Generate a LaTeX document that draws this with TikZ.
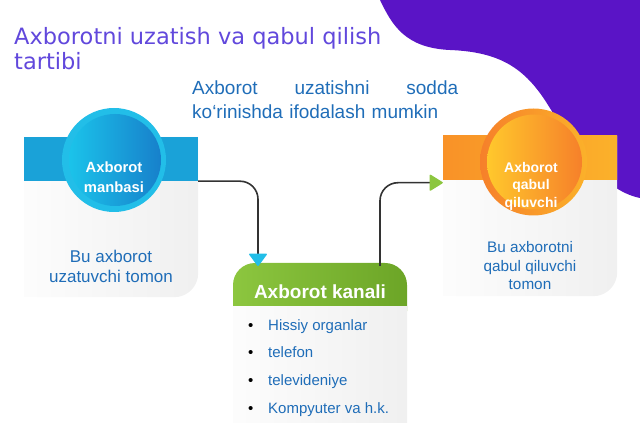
\documentclass[tikz,border=0pt]{standalone}
\usepackage{fontspec}
\setmainfont{Liberation Sans}
\newfontfamily\titlefont{DejaVu Sans}
\usetikzlibrary{arrows.meta,positioning}
\definecolor{purp}{HTML}{5A14C6}
\definecolor{titlec}{HTML}{6148DC}
\definecolor{txtblue}{HTML}{1F6DB8}
\definecolor{cyanband}{HTML}{1AA2D8}
\definecolor{cyanring}{HTML}{22BEE8}
\definecolor{cyanlt}{HTML}{1BC3EA}
\definecolor{cyandk}{HTML}{1780CB}
\definecolor{orband}{HTML}{F8A22C}
\definecolor{orring}{HTML}{FBB12A}
\definecolor{orlt}{HTML}{FFC82C}
\definecolor{ordk}{HTML}{F6802A}
\definecolor{grnlt}{HTML}{8CC63F}
\definecolor{grndk}{HTML}{6CA527}
\definecolor{linec}{HTML}{333333}
\newcommand{\itm}[1]{\makebox[20pt][l]{\color{black}\textbullet}#1}

\begin{document}
\begin{tikzpicture}[x=1pt,y=-1pt,
  card/.style={inner sep=0pt,minimum width=174pt,minimum height=160pt},
  cardfill/.style={left color=gray!2,right color=gray!12},
  band/.style={inner sep=0pt,minimum width=174pt,minimum height=44pt},
  ring/.style={circle,inner sep=0pt},
  ctext/.style={align=center,text=white,font=\bfseries\fontsize{14.8}{20}\selectfont},
  btext/.style={align=center,text=txtblue},
  link/.style={draw=linec,line width=1.6pt,rounded corners=18pt}]
\useasboundingbox (0,0) rectangle (640,443);
% background wave
\fill[purp] (380,0) .. controls (392,25) and (405,48) .. (450,50)
  .. controls (500,52) and (525,68) .. (548,105)
  .. controls (570,140) and (600,190) .. (640,198) -- (640,0) -- cycle;
% titles
\node[anchor=north west,align=left,text=titlec,inner sep=0pt,
  font=\titlefont\fontsize{22.5}{25}\selectfont] (ttl) at (14,27)
  {Axborotni uzatish va qabul qilish\\tartibi};
\node[anchor=north west,align=left,text=txtblue,inner sep=0pt,text width=266pt,
  font=\fontsize{19}{24}\selectfont] (sub) at (192,81)
  {Axborot\hfill uzatishni\hfill sodda\\ko‘rinishda ifodalash mumkin};
% sender card
\node[card] (srccard) at (111,217) {};
\shade[cardfill] (srccard.north west) -- (srccard.north east)
  -- ([yshift=24pt]srccard.south east) arc (0:-90:24pt) -- (srccard.south west) -- cycle;
\node[band,fill=cyanband] (srcband) at (111,159) {};
\node[ring,minimum size=104pt,fill=cyanring] (srcring) at (114,160) {};
\node[ring,minimum size=92pt,left color=cyanlt,right color=cyandk] (srcdisc) at (115,160) {};
\node[ctext] (src) at (114,177) {Axborot\\manbasi};
\node[btext,font=\fontsize{17}{20}\selectfont] (srctxt) at (111,266) {Bu axborot\\uzatuvchi tomon};
% receiver card
\node[card] (dstcard) at (530,216) {};
\shade[cardfill] (dstcard.north west) -- (dstcard.north east)
  -- ([yshift=24pt]dstcard.south east) arc (0:-90:24pt) -- (dstcard.south west) -- cycle;
\node[band,left color=orband!90!red,right color=orring] (dstband) at (530,157.5) {};
\node[ring,minimum size=107pt,left color=ordk,right color=orring] (dstring) at (533.5,162) {};
\node[ring,minimum size=95pt,left color=orlt,right color=ordk] (dstdisc) at (534.5,162) {};
\node[ctext,font=\bfseries\fontsize{14}{17.5}\selectfont] (dst) at (531,186) {Axborot\\qabul\\qiluvchi};
\node[btext,font=\fontsize{15.3}{18.5}\selectfont] (dsttxt) at (530,266) {Bu axborotni\\qabul qiluvchi\\tomon};
% channel
\node[inner sep=0pt,minimum width=174pt,minimum height=70pt,rounded corners=22pt,
  left color=grnlt,right color=grndk] (chanhead) at (320,298) {};
\node[inner sep=0pt,minimum width=174pt,minimum height=116pt,cardfill] (chanbody) at (320,365) {};
\node[text=white,font=\bfseries\fontsize{19}{22}\selectfont] (chan) at (320,292) {Axborot kanali};
\node[anchor=north west,align=left,text=txtblue,inner sep=0pt,
  font=\fontsize{15}{27.7}\selectfont] (items) at (248,319)
  {\itm{Hissiy organlar}\\\itm{telefon}\\\itm{televideniye}\\\itm{Kompyuter va h.k.}};
% connectors
\coordinate (chanin) at (258,266);
\coordinate (chanout) at (380,266);
\draw[link,-{Triangle[round,length=13pt,width=19pt,color=cyanring]}] (srcband.south east) -| (chanin);
\draw[link,-{Triangle[round,length=14pt,width=17pt,color=grnlt]}] (chanout) |- ([yshift=-3pt]dstband.south west);
\end{tikzpicture}
\end{document}
